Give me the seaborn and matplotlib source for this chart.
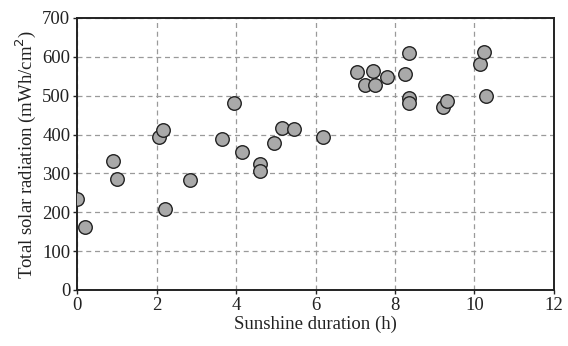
import numpy as np
import pandas as pd
import seaborn as sns
import matplotlib.pyplot as plt

# values
sunshine_h = [0.0, 0.2, 0.9, 1.0, 2.05, 2.15, 2.2, 2.85, 3.65, 3.95, 4.15,
              4.6, 4.6, 4.95, 5.15, 5.45, 6.2, 7.05, 7.45, 7.25, 7.5, 7.8,
              8.25, 8.35, 8.35, 8.35, 9.2, 9.3, 10.15, 10.25, 10.3]
radiation = [234, 163, 333, 286, 394, 411, 208, 283, 389, 482, 356,
             325, 306, 379, 416, 413, 394, 560, 564, 527, 527, 548,
             557, 610, 495, 480, 471, 487, 582, 613, 499]

x_ticks = [0, 2, 4, 6, 8, 10, 12]
y_ticks = [0, 100, 200, 300, 400, 500, 600, 700]

df = pd.DataFrame({'sunshine': sunshine_h, 'radiation': radiation})

sns.set_style('ticks')
plt.rcParams['font.family'] = ['Liberation Serif', 'DejaVu Serif']

fig = plt.figure(figsize=(5.68, 3.46), dpi=100)
ax = fig.add_axes([0.136, 0.162, 0.839, 0.786])

ax.grid(True, linestyle=(0, (4, 3)), color='#9a9a9a', linewidth=0.9)
ax.set_axisbelow(True)

sns.scatterplot(data=df, x='sunshine', y='radiation', ax=ax, s=95,
                color='#a9a9a9', edgecolor='#222222', linewidth=1.0, zorder=3)

ax.set_xlim(0, 12)
ax.set_ylim(0, 700)
ax.set_xticks(x_ticks)
ax.set_yticks(y_ticks)
for sp in ax.spines.values():
    sp.set_visible(True)
    sp.set_linewidth(1.4)
    sp.set_color('#222222')
ax.tick_params(axis='both', direction='out', length=3, width=1,
               labelsize=13.5, colors='#222222', pad=2)
ax.set_xlabel('Sunshine duration (h)', fontsize=13.5, color='#222222', labelpad=1)
ax.set_ylabel('Total solar radiation (mWh/cm$^2$)', fontsize=13.5,
              color='#222222', labelpad=3)

fig.savefig('out.png', dpi=100)
